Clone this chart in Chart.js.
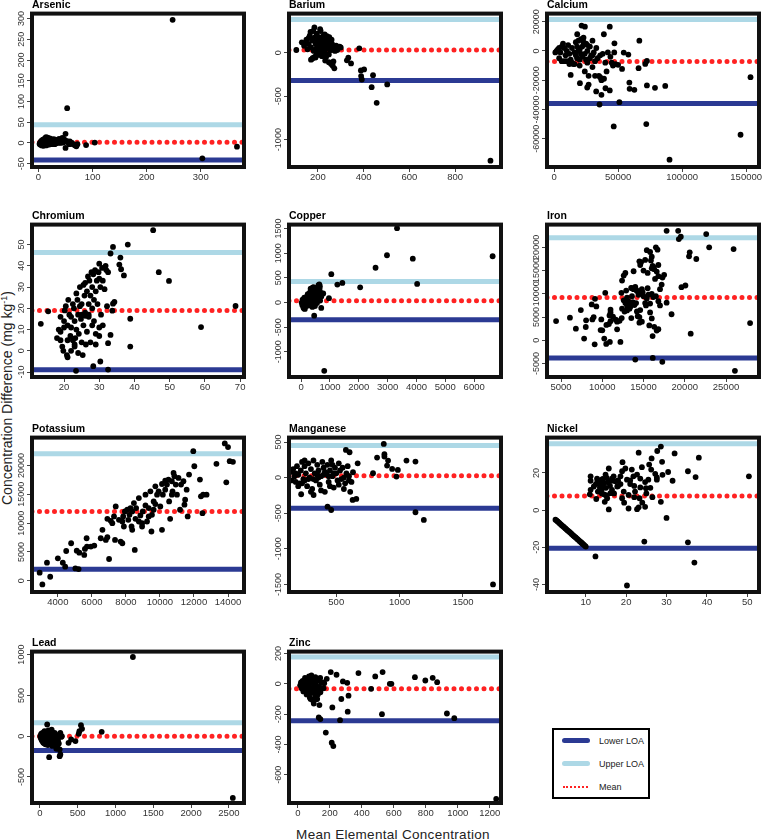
<!DOCTYPE html>
<html><head><meta charset="utf-8">
<script src="https://cdn.jsdelivr.net/npm/chart.js@4.4.1/dist/chart.umd.min.js"></script>
<style>
body{margin:0;background:#fff;width:762px;height:839px;position:relative;overflow:hidden;font-family:"Liberation Sans",Arial,sans-serif;}
.pc{position:absolute;}
#ytitle{position:absolute;left:7px;top:398px;transform:translate(-50%,-50%) rotate(-90deg);white-space:nowrap;font-size:14px;color:#222;}
#xtitle{position:absolute;left:393px;top:827px;transform:translateX(-50%);white-space:nowrap;font-size:13.5px;color:#222;letter-spacing:0.3px;}
#legend{position:absolute;left:552px;top:728px;width:94px;height:67px;border:2px solid #000;background:#fff;}
.li{position:absolute;left:8px;width:28px;height:5px;border-radius:3px;}
.lt{position:absolute;left:45px;font-size:9px;color:#222;line-height:10px;}
</style></head>
<body>
<div id="ytitle">Concentration Difference (mg kg<sup style="font-size:9px">-1</sup>)</div>
<div id="xtitle">Mean Elemental Concentration</div>
<div id="legend">
  <div class="li" style="top:8px;background:#2b3a93"></div><div class="lt" style="top:6px">Lower LOA</div>
  <div class="li" style="top:31px;background:#add8e6"></div><div class="lt" style="top:29px">Upper LOA</div>
  <div style="position:absolute;left:9px;top:56px;width:25px;border-top:2px dotted #f22"></div><div class="lt" style="top:52px">Mean</div>
</div>
<script>
// ---------- DATA ----------
const elementNames = ["Arsenic","Barium","Calcium","Chromium","Copper","Iron","Potassium","Manganese","Nickel","Lead","Zinc"];

// limits: [lower LOA, mean, upper LOA]
const arsenicLimits = [-41, 1.5, 44];
const bariumLimits = [-319, 31, 381];
const calciumLimits = [-36000, -7200, 21400];
const chromiumLimits = [-8.9, 19.0, 46.3];
const copperLimits = [-349, 34, 425];
const ironLimits = [-3790, 9210, 22070];
const potassiumLimits = [1980, 12030, 22030];
const manganeseLimits = [-430, 25, 450];
const nickelLimits = [-20.5, 7.6, 35.7];
const leadLimits = [-175, 0, 165];
const zincLimits = [-244, -33, 178];

const arsenicXTicks = [0,100,200,300];
const arsenicYTicks = [-50,0,50,100,150,200,250,300];
const bariumXTicks = [200,400,600,800];
const bariumYTicks = [-1000,-500,0];
const calciumXTicks = [0,50000,100000,150000];
const calciumYTicks = [-60000,-40000,-20000,0,20000];
const chromiumXTicks = [20,30,40,50,60,70];
const chromiumYTicks = [-10,0,10,20,30,40,50];
const copperXTicks = [0,1000,2000,3000,4000,5000,6000];
const copperYTicks = [-1000,-500,0,500,1000,1500];
const ironXTicks = [5000,10000,15000,20000,25000];
const ironYTicks = [-5000,0,5000,10000,15000,20000];
const potassiumXTicks = [4000,6000,8000,10000,12000,14000];
const potassiumYTicks = [0,5000,10000,15000,20000];
const manganeseXTicks = [500,1000,1500];
const manganeseYTicks = [-1500,-1000,-500,0,500];
const nickelXTicks = [10,20,30,40,50];
const nickelYTicks = [-40,-20,0,20];
const leadXTicks = [0,500,1000,1500,2000,2500];
const leadYTicks = [-500,0,500,1000];
const zincXTicks = [0,200,400,600,800,1000,1200];
const zincYTicks = [-600,-400,-200,0,200];

// axis ranges [min,max]
const arsenicXRange = [-12, 380], arsenicYRange = [-58, 312];
const bariumXRange = [74, 1000], bariumYRange = [-1315, 450];
const calciumXRange = [-5500, 160000], calciumYRange = [-79300, 25500];
const chromiumXRange = [10.9, 71.1], chromiumYRange = [-12.3, 59.4];
const copperXRange = [-420, 6930], copperYRange = [-1510, 1580];
const ironXRange = [3300, 29000], ironYRange = [-7900, 24900];
const potassiumXRange = [2480, 14940], potassiumYRange = [-1950, 24850];
const manganeseXRange = [127, 1800], manganeseYRange = [-1607, 562];
const nickelXRange = [0.4, 52.9], nickelYRange = [-44, 39];
const leadXRange = [-105, 2700], leadYRange = [-820, 1037];
const zincXRange = [-55, 1270], zincYRange = [-787, 213];

// points [mean concentration, difference]
const arsenicPts = [[248,297],[53,84],[303,-37],[367,-9],[104,1],[88,-5],[50,22],[50,-12],[70,-8],
[2,-2],[3,0],[4,2],[5,-3],[6,1],[7,4],[8,-1],[9,3],[10,6],[11,0],[12,8],[13,12],[14,14],[15,5],[16,10],[17,13],[18,2],[19,-2],[20,7],[21,11],[22,4],[24,-1],[25,6],[27,3],[28,9],[30,2],[32,5],[34,0],[35,7],[37,3],[38,10],[40,5],[42,8],[44,12],[45,4],[47,10],[48,6],[55,1],[58,4],[60,-2],[62,0],[65,-4],[68,-6],[72,-3],[5,5],[8,8],[10,-4],[12,-3],[15,-5],[20,-4],[25,-3],[30,-3],[3,-4],[14,-6],[16,3],[18,9],[22,-2],[26,1],[33,-1],[36,2],[41,0],[43,3],[46,1],[6,-6],[9,-7],[11,10],[13,4],[17,-1],[19,6],[23,9],[29,5],[31,8],[39,1],[52,5],[57,-3]];

const bariumPts = [[954,-1242],[457,-577],[435,-396],[503,-365],[441,-258],[402,-192],[388,-204],[389,-269],[392,-308],[381,50],[345,-123],[327,-88],[333,-58],[106,31],
[130,120],[140,80],[150,150],[155,40],[160,100],[165,200],[170,60],[175,140],[178,-60],[180,250],[182,20],[185,290],[188,180],[190,100],[192,-30],[195,220],[198,60],[200,140],[202,-10],[205,180],[208,90],[210,40],[212,250],[215,120],[218,-40],[220,160],[222,80],[225,200],[228,20],[230,130],[232,-90],[235,60],[238,170],[240,-20],[242,100],[245,140],[248,-110],[250,40],[252,120],[255,80],[258,-130],[260,30],[262,100],[265,-150],[268,-100],[270,60],[272,-180],[275,20],[280,80],[285,30],[290,60],[295,70],[170,-80],[175,-70],[185,-50],[160,170],[210,270],[200,20],[190,40],[230,210],[240,190],[250,180],[260,150],[220,0],[248,-20],[236,-50],[205,-25],[190,-55],[300,60],[145,110],[168,240],[178,160],[196,120],[214,60],[226,110],[244,70]];

const calciumPts = [[153370,-17950],[145600,-57270],[90150,-74300],[72000,-50000],[46600,-51600],[51000,-35000],[35500,-36600],[86800,-23900],[78800,-25200],[72500,-23600],[72500,-6800],[71200,-8900],[66600,7000],[66000,-11800],[62700,-26600],[59000,-25900],[58800,-21600],[58000,-2500],[54400,-1100],[53100,-12300],[50000,-9500],[47150,5200],[43500,16600],[43500,-27000],[40150,-25500],[37000,-30000],[32900,-27700],[38900,11400],[25900,-25000],[20200,-22000],[13000,-16400],[24100,16600],[21500,17300],[18100,11400],
[1000,-1000],[2000,0],[3000,1000],[4000,2000],[5000,-1000],[6000,3000],[7000,5000],[8000,2000],[8000,-7000],[9000,-3000],[10000,0],[11000,4000],[12000,-2000],[13000,-6000],[14000,2000],[15000,-9000],[16000,-1000],[17000,6000],[18000,3000],[18000,-5000],[19000,7000],[20000,-10000],[20000,1000],[21000,8000],[22000,-4000],[22000,3000],[23000,6000],[24000,-2000],[24000,-14000],[25000,5000],[26000,0],[26000,-8000],[27000,-17000],[28000,3000],[28000,-5000],[29000,-3000],[30000,7000],[30000,-11000],[31000,-1000],[32000,-7000],[33000,2000],[34000,-5000],[35000,-17000],[36000,-3000],[37000,-20000],[38000,-2000],[39000,-19000],[40000,-8000],[41000,-14000],[42000,-1000],[44000,-4000],[45000,-8000],[46000,-10000],[47000,-1000],[48000,-9000],[30000,-3000],[25000,-6000],[20000,-6000],[16000,-9000],[12000,-9000],[10000,-7000],[6000,-7000],[4000,-5000],[14000,-8000],[27000,-23000],[32000,-17000],[36000,-18000],[17000,-3000],[23000,9000],[19000,0],[21000,-2000],[26000,4000]];

const chromiumPts = [[45.3,56.8],[46.9,37.0],[49.8,32.9],[58.9,11.2],[68.7,21.1],[38.8,15.1],[38.8,2.0],[38.1,50.0],[33.9,48.9],[33.2,45.8],[36.0,43.9],[35.7,40.6],[36.2,38.4],[37.0,35.5],[13.4,12.7],[15.5,18.6],[23.4,-9.4],[28.3,-7.2],[30.3,-5.0],[32.5,-8.8],[32.5,3.6],[33.2,7.5],[33.7,18.9],[33.9,22.2],[34.3,23.0],
[18,6],[18.5,10],[19,9],[19,16],[19.5,2],[19.8,0],[20,14],[20.2,19],[20.5,21],[20.8,-2],[21,-3],[21,12],[21.2,24],[21.5,17],[21.8,7],[22,11],[22,0],[22.5,5],[22.5,22],[22.8,20],[23,14],[23,2],[23.2,6],[23.5,10],[23.5,27],[23.8,24],[24,-1],[24,17],[24.2,8],[24.5,30],[24.8,15],[25,22],[25,4],[25.3,-2],[25.5,31],[25.5,12],[25.8,26],[26,32],[26,18],[26.2,3],[26.5,28],[26.5,9],[26.8,35],[27,22],[27,16],[27.2,33],[27.5,26],[27.5,4],[27.8,37],[28,30],[28,12],[28,20],[28.3,36],[28.5,24],[28.5,14],[28.8,38],[29,28],[29,8],[29,3],[29.3,33],[29.5,22],[29.8,37],[30,34],[30,41],[30,11],[30.3,30],[30.5,17],[30.8,39],[31,12],[31,33],[31.5,29],[31.8,40],[32,38],[32.2,21],[32.5,37],[26,16.5],[24.5,21],[22,16],[27,17],[25,17],[20,11],[19,5],[23,3],[30,7],[21,5]];

const copperPts = [[3326,1507],[2977,959],[3872,890],[4023,377],[6640,938],[2581,705],[2047,308],[1430,397],[1256,363],[1047,575],[965,89],[802,-1384],[453,-267],[698,-110],[767,185],
[20,0],[40,-50],[60,20],[80,-100],[100,50],[120,-20],[140,80],[160,10],[180,-60],[200,120],[220,40],[240,-30],[260,150],[280,60],[300,200],[320,100],[340,0],[360,250],[380,150],[400,300],[420,50],[440,200],[460,-50],[480,120],[500,260],[520,180],[540,80],[560,300],[580,220],[600,350],[620,150],[640,280],[660,40],[680,200],[700,120],[100,-120],[150,-80],[250,-60],[350,90],[450,130],[550,-10],[650,330],[300,60],[200,-10],[150,30],[50,60],[70,-30],[110,100],[130,-130],[230,170],[330,280],[430,310],[530,240],[630,370],[480,-70],[390,-90]];

const ironPts = [[4400,4140],[6080,4860],[6800,2500],[7400,6500],[7800,360],[8000,2860],[8040,4290],[8800,4500],[8960,5000],[8720,7710],[9280,7290],[9120,8930],[9080,-860],[9880,4500],[10000,2140],[10240,360],[10360,10210],[10480,-790],[10800,3500],[10880,5360],[11000,6570],[10920,-360],[11800,2360],[11640,4430],[12200,-360],[12360,4790],[12400,12860],[12600,13930],[12800,14500],[12320,10210],[13000,6430],[13520,4790],[14000,-4140],[14120,10860],[13800,14860],
[13000,7500],[13200,8300],[13400,7200],[13600,9500],[13800,11000],[14000,11500],[14200,10600],[14100,8000],[14400,9800],[13500,11300],[12800,8000],[13000,9200],[13300,7800],[13900,7600],[12400,6800],[12600,8600],
[14600,16200],[14700,16800],[14500,17000],[15200,17300],[15400,19400],[15800,19000],[16000,18000],[15900,17200],[16100,16000],[16300,15300],[16500,20000],[16700,19500],[16800,16200],[16600,14800],[16400,13200],[17200,12000],[17300,13500],[17500,14100],[15000,15000],[15500,14500],[16000,15500],[16200,15800],[16800,13800],
[14200,6200],[14500,5000],[14800,4000],[14500,3800],[15000,9500],[15200,8000],[15300,7500],[15600,9800],[15800,6000],[16000,4700],[16100,900],[16300,2900],[15700,3200],[16500,9500],[16800,8400],[17000,7500],[16600,2100],[16800,2400],[17800,8100],[18400,5600],[15800,7900],
[16120,-3790],[17280,-4640],[17800,23570],[19200,23570],[19280,21790],[19520,22290],[22600,22860],[22960,20000],[20520,18070],[20600,18930],[21400,17500],[25920,19640],[19600,11430],[20080,11790],[20720,1430],[27920,3710],[26080,-6570],
[10500,3300],[11000,4100],[11300,5100],[11800,4000],[12100,4200],[12700,6200],[13100,7600],[13300,6800],[14600,6500],[14300,5200],[13700,8200],[14500,10500],[14800,11000],[15500,11200],[16000,10000],[17000,11000],[15400,9000],[14900,10300],[16200,9300],[9800,2200],[11000,6000],[12900,10700],[13600,11200]];

const potassiumPts = [[2930,1400],[3090,-640],[3360,3140],[3550,700],[4000,3900],[4290,3140],[4430,2440],[4490,5170],[4780,6510],[5030,2150],[5220,2030],[5110,5230],[5260,4880],[5550,4480],[5590,5520],[5710,5930],[5690,7380],[5940,5930],[6140,6100],[6520,7380],[6620,8840],[6820,7090],[6910,7560],[7010,3780],[6910,10760],[7110,10410],[7200,10000],[7400,12910],[7300,11160],[7360,7090],[7690,6800],[7790,6510],[7840,11160],[7790,10290],[7940,12030],[8080,12330],[8140,10580],[8210,11450],[8330,9420],[8370,8840],[8470,13490],[8520,5350],[8600,12620],[8760,10290],[8850,11340],[8990,12030],[8950,10000],[9150,13080],[9150,14940],[9240,10290],[9340,11160],[9500,8550],[9530,11450],[9630,13780],[9730,13310],[9830,14940],[9920,15520],[10020,12910],[10120,8840],[10170,14940],[10310,15810],[10410,16690],[10500,17560],[10540,13780],[10600,10760],[10700,17270],[10740,15520],[10800,18720],[10850,18140],[10930,16690],[11090,17850],[11180,12330],[11240,16690],[11380,17270],[11440,13200],[11480,14070],[11570,15810],[11630,11160],[11710,18430],[11960,22500],[12020,19880],[12350,17560],[12410,14650],[12500,11740],[12540,14940],[12740,14940],[13320,20290],[13810,23840],[14000,23200],[13900,17090],[14100,20760],[14290,20640],
[8370,12030],[8760,14360],[9440,15520],[9730,16400],[10120,16800],[10310,17380],[10700,14940],[11000,14940],[9340,12620],[8560,10760],[8950,9420],[9630,12330],[7880,9420],[7590,10580],[8270,12620]];

const manganesePts = [[1737,-1500],[1125,-487],[1191,-595],[875,473],[880,328],[880,295],[822,281],[909,239],[901,169],[941,122],[986,108],[975,14],[1054,239],[1125,225],[790,61],[669,201],[658,-300],[629,-314],[605,356],[576,389],[632,75],[431,-408],[460,-455],[223,-234],[321,-244],
[140,80],[150,-40],[160,120],[170,20],[180,-60],[190,160],[200,40],[210,-80],[220,100],[230,220],[240,-20],[250,160],[260,60],[270,-120],[280,200],[290,0],[300,120],[310,-160],[320,240],[330,60],[340,-40],[350,180],[360,100],[370,-100],[380,20],[390,220],[400,140],[410,-200],[420,60],[430,180],[440,-60],[450,100],[460,240],[470,20],[480,-140],[490,140],[500,60],[510,-40],[520,200],[530,100],[540,-20],[550,140],[560,0],[570,-80],[580,60],[590,160],[600,-40],[610,-200],[620,-60],[180,60],[200,-120],[250,-40],[280,-20],[320,-20],[360,0],[400,40],[440,20],[480,60],[520,-100],[560,-160],[600,20],[350,40],[250,240],[300,-200],[230,-80],[450,-120],[410,80],[380,-180],[470,180]];

const nickelPts = [[20.2,-40.5],[12.4,-24.9],[24.5,-16.9],[35.3,-17.3],[36.9,-28.2],[37.2,17.8],[38.0,28.2],[50.4,18.2],[35.3,20.9],[30.0,-4.2],[31.5,15.8],[30.4,20.5],[32.0,30.5],[28.6,34.2],[27.7,31.8],[28.9,26.0],[28.6,4.5],[26.3,27.8],[25.7,24.5],[26.2,21.8],[27.6,17.6],[27.6,16.4],[23.1,30.9],[19.1,25.8],[19.8,22.4],[19.0,20.9],[18.6,18.2],[20.2,16.4],[20.6,0.9],[22.7,0.5],[23.1,1.5],[24.7,1.8],[23.3,6.4],[21.4,21.8],[21.0,14.0],[21.8,18.2],[22.7,19.1],[23.9,23.1],[24.7,15.1],[24.9,11.8],[25.5,16.4],[23.5,12.2],[22.2,10.0],[20.6,8.2],[19.4,10.0],[19.0,6.4],[18.6,14.0],[17.3,15.5],[16.4,15.8],[15.7,0.4],[15.7,22.4],[14.9,19.1],[14.7,4.5],[15.3,6.4],[14.1,16.4],[13.7,15.1],[12.9,15.8],[12.6,6.0],[13.3,14.0],[14.1,11.8],[14.5,8.5],[12.0,12.7],[11.2,10.9],[11.0,8.5],[11.2,18.2],[11.2,15.8],[16.1,9.1],[16.9,18.2],[17.8,12.7],[16.5,10.9],
[13.5,16],[14,13],[14.5,14.5],[15,12],[15.5,15],[16,13],[13,10],[14,9],[15,8],[12.5,14],[13.5,12],[16.5,17],[15.2,17.3],[14.2,16.8],[12.8,17],[13.8,11],[17,9],[18,16],[21,16],[22,13],[23.5,17],[25,9],[26,12],[26.5,7],[24,4],[22,7],[27.2,19.5],[29,19],[19.5,4],[18,13],
[2.5,-5.1],[2.8,-5.6],[3.0,-6.0],[3.2,-6.4],[3.5,-7.0],[3.8,-7.6],[4.0,-8.0],[4.2,-8.4],[4.5,-8.9],[4.8,-9.5],[5.0,-9.9],[5.2,-10.3],[5.5,-10.9],[5.8,-11.4],[6.0,-11.8],[6.2,-12.2],[6.5,-12.8],[6.8,-13.4],[7.0,-13.8],[7.2,-14.2],[7.5,-14.7],[7.8,-15.3],[8.0,-15.7],[8.2,-16.1],[8.5,-16.7],[8.8,-17.2],[9.0,-17.6],[9.2,-18.0],[9.5,-18.6],[9.8,-19.2],[10.0,-19.6]];

const leadPts = [[1230,971],[2552,-758],[817,53],[543,135],[557,90],[522,61],[513,29],[470,-61],[413,-41],[378,-82],[261,-164],[270,-225],[261,-246],[122,-258],[96,143],[217,-156],
[5,0],[10,-20],[15,20],[20,-40],[25,10],[30,-60],[35,40],[40,-10],[45,-80],[50,30],[55,-30],[60,60],[65,-50],[70,0],[75,-100],[80,40],[85,-20],[90,-70],[95,20],[100,-40],[105,-110],[110,10],[115,70],[120,-60],[125,-20],[130,30],[135,-90],[140,50],[145,-10],[150,-50],[155,80],[160,0],[165,-120],[170,30],[175,-40],[180,-80],[185,20],[190,-100],[195,40],[200,-30],[205,-70],[210,10],[220,-50],[230,-120],[240,-20],[250,-90],[260,20],[270,40],[280,-10],[290,0],[40,-60],[60,-90],[90,-30],[130,-100],[20,30],[50,-10],[80,-50],[110,-80],[160,50],[200,20],[240,-60],[100,60]];

const zincPts = [[1240,-760],[978,-227],[932,-196],[871,11],[843,40],[797,22],[732,44],[585,0],[575,0],[530,78],[526,-200],[484,49],[458,-33],[379,71],[317,-78],[312,-184],[309,7],[282,16],[272,-100],[264,-240],[242,60],[222,-411],[212,-389],[216,-156],[206,78],[175,-322],[141,-233],[131,-222],[135,-140],[121,-100],[141,-56],[161,-29],[165,4],[181,33],
[15,-10],[20,10],[25,-30],[30,20],[35,-50],[40,0],[45,40],[50,-20],[55,-70],[60,30],[65,-40],[70,50],[75,-90],[80,10],[85,-60],[90,40],[95,-110],[100,-20],[105,30],[110,-80],[115,-10],[120,20],[130,-50],[140,40],[150,-30],[160,10],[30,-5],[50,20],[70,-10],[90,-30],[60,-60],[80,-100],[100,-130],[120,-40],[40,-30],[75,25],[110,45],[85,55],[65,10],[95,5],[125,-70],[135,-20],[145,10],[25,5],[45,-15],[105,-50],[115,-100]];

// ---------- LAYOUT (page px: left, top, right, bottom of each plot frame) ----------
const frames = [
 [32,14,244,167],[289,14,501,167],[547,14,759,167],
 [32,225,244,377],[289,225,501,377],[547,225,759,377],
 [32,438,244,592],[289,438,501,592],[547,438,759,592],
 [32,652,244,803],[289,652,501,803]
];

const panelData = [
 [arsenicPts, arsenicLimits, arsenicXTicks, arsenicYTicks, arsenicXRange, arsenicYRange],
 [bariumPts, bariumLimits, bariumXTicks, bariumYTicks, bariumXRange, bariumYRange],
 [calciumPts, calciumLimits, calciumXTicks, calciumYTicks, calciumXRange, calciumYRange],
 [chromiumPts, chromiumLimits, chromiumXTicks, chromiumYTicks, chromiumXRange, chromiumYRange],
 [copperPts, copperLimits, copperXTicks, copperYTicks, copperXRange, copperYRange],
 [ironPts, ironLimits, ironXTicks, ironYTicks, ironXRange, ironYRange],
 [potassiumPts, potassiumLimits, potassiumXTicks, potassiumYTicks, potassiumXRange, potassiumYRange],
 [manganesePts, manganeseLimits, manganeseXTicks, manganeseYTicks, manganeseXRange, manganeseYRange],
 [nickelPts, nickelLimits, nickelXTicks, nickelYTicks, nickelXRange, nickelYRange],
 [leadPts, leadLimits, leadXTicks, leadYTicks, leadXRange, leadYRange],
 [zincPts, zincLimits, zincXTicks, zincYTicks, zincXRange, zincYRange]
];

const FONT = '"Liberation Sans", Arial, sans-serif';
const DARK = '#2b3a93', LIGHT = '#add8e6', RED = '#f22';

const framePlugin = {
  id: 'frameAndYLabels',
  afterDraw(chart) {
    const {ctx, chartArea: a, scales: {y}} = chart;
    ctx.save();
    ctx.lineWidth = 4; ctx.strokeStyle = '#111';
    ctx.strokeRect(a.left, a.top, a.right - a.left, a.bottom - a.top);
    ctx.font = '9px ' + FONT; ctx.fillStyle = '#333';
    ctx.textAlign = 'center'; ctx.textBaseline = 'bottom';
    y.ticks.forEach(t => {
      const py = y.getPixelForValue(t.value);
      ctx.save(); ctx.translate(a.left - 6, py); ctx.rotate(-Math.PI / 2);
      ctx.fillText(String(t.value), 0, 0); ctx.restore();
    });
    ctx.restore();
  }
};

const YW = 30, XH = 20, TH = 15, PR = 4;
panelData.forEach((d, i) => {
  const [pts, lim, xt, yt, xr, yr] = d;
  const [l, t, r, b] = frames[i];
  const c = document.createElement('canvas');
  c.width = YW + (r - l) + PR; c.height = TH + (b - t) + XH;
  c.className = 'pc'; c.style.left = (l - YW) + 'px'; c.style.top = (t - TH) + 'px';
  document.body.appendChild(c);
  const hline = (v, color, extra) => Object.assign({
    type: 'line', data: [{x: xr[0], y: v}, {x: xr[1], y: v}], borderColor: color,
    borderWidth: 5, pointRadius: 0, fill: false, order: 2
  }, extra || {});
  new Chart(c, {
    type: 'scatter',
    data: { datasets: [
      { data: pts.map(p => ({x: p[0], y: p[1]})), backgroundColor: '#000', borderColor: '#000', pointRadius: 2.9, pointBorderWidth: 0, order: 0, clip: 4 },
      hline(lim[2], LIGHT),
      hline(lim[0], DARK),
      hline(lim[1], RED, { borderDash: [0, 7.5], borderCapStyle: 'round', borderWidth: 5, order: 1 })
    ]},
    options: {
      responsive: false, animation: false, devicePixelRatio: 1,
      layout: { padding: { top: 0, right: PR, bottom: 0, left: 0 } },
      plugins: {
        legend: { display: false }, tooltip: { enabled: false },
        title: { display: true, text: elementNames[i], align: 'start', fullSize: false, color: '#000',
                 font: { family: FONT, size: 10.5, weight: 'bold' }, padding: { top: 0, bottom: 2 } }
      },
      scales: {
        x: { type: 'linear', min: xr[0], max: xr[1],
             afterBuildTicks: s => { s.ticks = xt.map(v => ({value: v})); },
             afterFit: s => { s.height = XH; },
             ticks: { font: { family: FONT, size: 9.5 }, color: '#333', padding: 0, maxRotation: 0, autoSkip: false, callback: v => String(v) },
             grid: { drawOnChartArea: false, drawTicks: true, tickLength: 5, color: '#444' },
             border: { display: false } },
        y: { type: 'linear', min: yr[0], max: yr[1],
             afterBuildTicks: s => { s.ticks = yt.map(v => ({value: v})); },
             afterFit: s => { s.width = YW; },
             ticks: { display: false },
             grid: { drawOnChartArea: false, drawTicks: true, tickLength: 5, color: '#444' },
             border: { display: false } }
      }
    },
    plugins: [framePlugin]
  });
});
</script>
</body></html>
